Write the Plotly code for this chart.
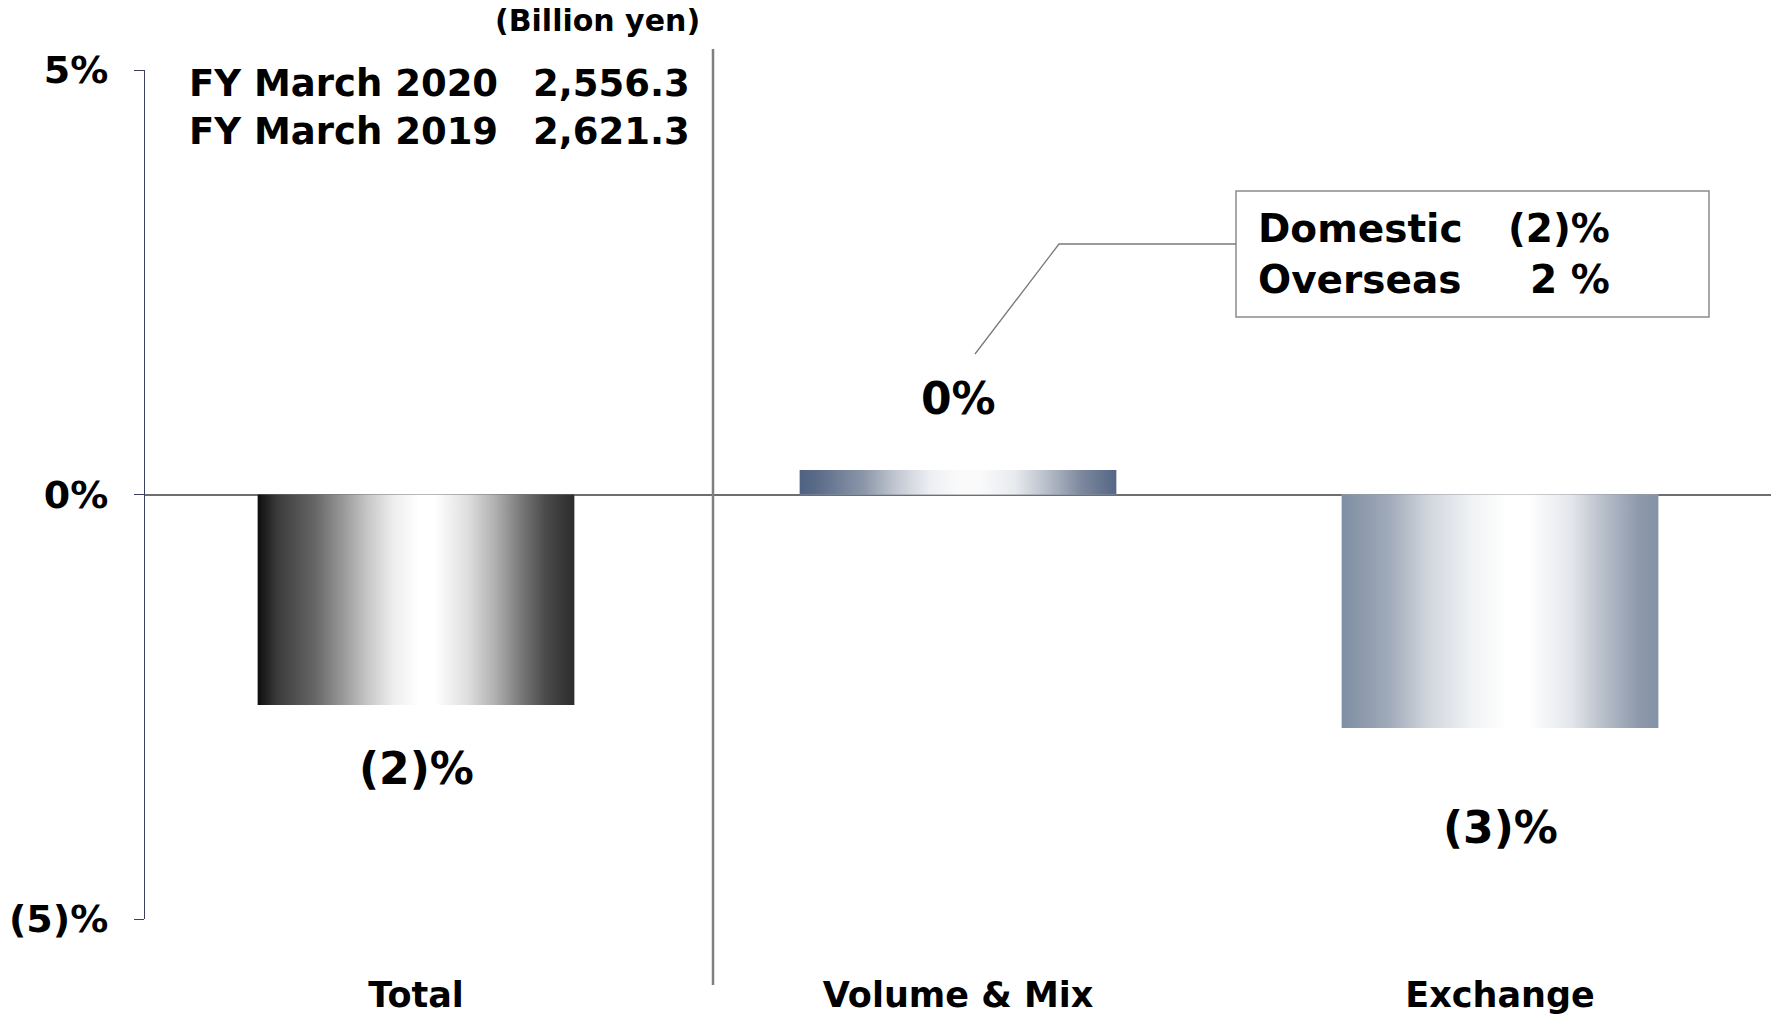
import plotly.graph_objects as go

# ---- data ----
categories = ["Total", "Volume & Mix", "Exchange"]
values = [-2.48, 0.29, -2.75]          # % change
value_labels = ["(2)%", "0%", "(3)%"]
y_tick_vals = [-5, 0, 5]
y_tick_text = ["(5)%", "0%", "5%"]
fy_labels = ["FY March 2020", "FY March 2019"]
fy_values = ["2,556.3", "2,621.3"]
region_labels = ["Domestic", "Overseas"]
region_values = ["(2)%", "2 %"]
unit_text = "(Billion yen)"

# ---- styles ----
FONT = "DejaVu Sans"
W, H = 1771, 1020
L, R, T, B = 145, 0, 70, 101
bar_width = 0.584
label_shift_px = [-63, 71, -100]
gradients = [
    [[0, "#0d0d0d"], [0.06, "#3a3a3a"], [0.18, "#666666"], [0.27, "#999999"],
     [0.35, "#c8c8c8"], [0.43, "#eeeeee"], [0.51, "#ffffff"], [0.56, "#ffffff"],
     [0.66, "#e0e0e0"], [0.75, "#b0b0b0"], [0.83, "#7a7a7a"], [0.91, "#4a4a4a"],
     [1, "#2c2c2c"]],
    [[0, "#4f6282"], [0.05, "#5a6b88"], [0.2, "#8a95a8"], [0.3, "#c0c6d0"],
     [0.41, "#eceef2"], [0.5, "#fafafa"], [0.57, "#fafafa"], [0.68, "#e8eaee"],
     [0.78, "#b8bfca"], [0.89, "#7c889e"], [1, "#556785"]],
    [[0, "#7f8ea3"], [0.15, "#a0aab9"], [0.27, "#d0d5dc"], [0.41, "#f0f2f4"],
     [0.52, "#ffffff"], [0.59, "#ffffff"], [0.73, "#e2e5ea"], [0.83, "#b5bdc8"],
     [0.94, "#8d99ab"], [1, "#8492a6"]],
]
base_colors = ["#7a7a7a", "#a9b2c1", "#c0c7d2"]

pw = W - L - R
ph = H - T - B


def px_x(px):
    return (px - L) / pw


def px_y(py):
    return (H - B - py) / ph


fig = go.Figure()

xs = list(range(len(categories)))
fig.add_trace(go.Bar(x=xs, y=values, width=bar_width,
                     marker=dict(color=base_colors, line=dict(width=0)),
                     hoverinfo="skip", showlegend=False))

for i, v in enumerate(values):
    x0, x1 = xs[i] - bar_width / 2, xs[i] + bar_width / 2
    fig.add_trace(go.Scatter(
        x=[x0, x1, x1, x0, x0], y=[0, 0, v, v, 0],
        mode="lines", line=dict(width=0), fill="toself",
        fillgradient=dict(type="horizontal", colorscale=gradients[i]),
        hoverinfo="skip", showlegend=False))

# value labels
for i, v in enumerate(values):
    fig.add_annotation(x=xs[i], y=v, text=value_labels[i], showarrow=False,
                       yanchor="middle", yshift=label_shift_px[i],
                       font=dict(family=FONT, size=44, color="black", weight="bold"))

# unit text
fig.add_annotation(xref="paper", yref="paper", x=px_x(597), y=px_y(20),
                   text=unit_text, showarrow=False, xanchor="center", yanchor="middle",
                   font=dict(family=FONT, size=30, color="black", weight="bold"))

# FY summary
fig.add_annotation(xref="paper", yref="paper", x=px_x(187), y=px_y(107.5),
                   text="<br>".join(fy_labels), showarrow=False, align="left",
                   xanchor="left", yanchor="middle",
                   font=dict(family=FONT, size=37, color="black", weight="bold"))
fig.add_annotation(xref="paper", yref="paper", x=px_x(692), y=px_y(107.5),
                   text="<br>".join(fy_values), showarrow=False, align="right",
                   xanchor="right", yanchor="middle",
                   font=dict(family=FONT, size=37, color="black", weight="bold"))

# callout box
fig.add_shape(type="rect", xref="paper", yref="paper",
              x0=px_x(1236), x1=px_x(1709), y0=px_y(317), y1=px_y(191),
              line=dict(color="#8c8c8c", width=1.5), fillcolor="white")
fig.add_shape(type="path", xref="paper", yref="paper",
              path=f"M {px_x(975)},{px_y(354)} L {px_x(1059)},{px_y(244)} L {px_x(1236)},{px_y(244)}",
              line=dict(color="#7a7a7a", width=1.3))
fig.add_annotation(xref="paper", yref="paper", x=px_x(1256), y=px_y(254),
                   text="<br>".join(region_labels), showarrow=False, align="left",
                   xanchor="left", yanchor="middle",
                   font=dict(family=FONT, size=39, color="black", weight="bold"))
fig.add_annotation(xref="paper", yref="paper", x=px_x(1612), y=px_y(254),
                   text="<br>".join(region_values), showarrow=False, align="right",
                   xanchor="right", yanchor="middle",
                   font=dict(family=FONT, size=39, color="black", weight="bold"))

# divider
fig.add_shape(type="line", xref="paper", yref="paper",
              x0=px_x(713), x1=px_x(713), y0=px_y(985), y1=px_y(49),
              line=dict(color="#808080", width=2.5))

fig.update_layout(
    width=W, height=H,
    margin=dict(l=L, r=R, t=T, b=B, pad=0),
    plot_bgcolor="white", paper_bgcolor="white",
    showlegend=False,
    font=dict(family=FONT, color="black"),
    xaxis=dict(range=[-0.5, 2.5], tickvals=xs, ticktext=categories,
               showline=False, showgrid=False, zeroline=False, ticks="",
               ticklabelstandoff=52,
               tickfont=dict(family=FONT, size=35, color="black", weight="bold")),
    yaxis=dict(range=[-5, 5], tickvals=y_tick_vals, ticktext=y_tick_text,
               showline=True, linecolor="#3b4060", linewidth=1.3,
               ticks="outside", ticklen=10, tickcolor="#3b4060", tickwidth=1.3,
               showgrid=False, zeroline=True, zerolinecolor="#6e6e6e", zerolinewidth=2,
               ticklabelstandoff=18,
               tickfont=dict(family=FONT, size=38, color="black", weight="bold")),
)

fig.write_html("out.html", config={"displayModeBar": False},
               post_script="document.body.style.margin='0';")
